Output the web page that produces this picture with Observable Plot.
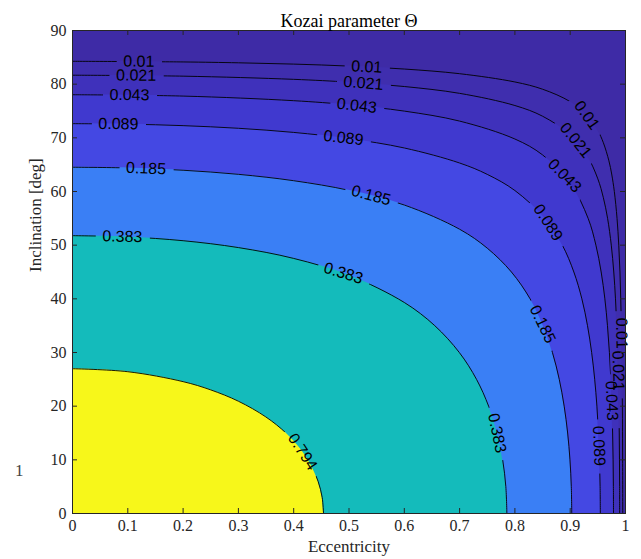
<!DOCTYPE html>
<html><head><meta charset="utf-8">
<script src="https://cdn.jsdelivr.net/npm/d3@7"></script>
<script src="https://cdn.jsdelivr.net/npm/@observablehq/plot@0.6"></script>
<style>
body{margin:0;background:#fff}
#chart{position:relative;width:641px;height:559px}
#stray{position:absolute;left:15px;top:461px;font:17px "Liberation Serif",serif;color:#444}
</style>
</head><body>
<div id="chart"><div id="stray">1</div></div>
<script>
// ---- data ----
const levels = [0.01, 0.021, 0.043, 0.089, 0.185, 0.383, 0.794];
const levelText = ["0.01", "0.021", "0.043", "0.089", "0.185", "0.383", "0.794"];
// band colours: below 0.01, then above each level
const bandColors = ["#3e2ba6", "#3f2eae", "#3f31bb", "#4039cf", "#4448e3", "#3a7ff5", "#14bbbb", "#f7f71a"];
const xTicks = [0, 0.1, 0.2, 0.3, 0.4, 0.5, 0.6, 0.7, 0.8, 0.9, 1];
const yTicks = [0, 10, 20, 30, 40, 50, 60, 70, 80, 90];

// contour lines as [eccentricity, inclination(deg)] points
const contour001 = [[0,84.26],[0.2,84.14],[0.3,83.98],[0.4,83.74],[0.5,83.37],[0.6,82.82],[0.7,81.95],[0.8,80.41],[0.85,79.06],[0.9,76.74],[0.93,74.21],[0.95,71.32],[0.96,69.08],[0.97,65.71],[0.975,63.26],[0.9798,60],[0.9847,55],[0.9878,50],[0.99,45],[0.9914,40],[0.9925,35],[0.9933,30],[0.9939,25],[0.9943,20],[0.9948,10],[0.995,0]];
const contour0021 = [[0,81.67],[0.2,81.49],[0.4,80.9],[0.5,80.37],[0.6,79.56],[0.7,78.29],[0.8,76.02],[0.85,74.03],[0.9,70.58],[0.93,66.78],[0.95,62.35],[0.96,58.83],[0.9676,55],[0.9743,50],[0.9788,45],[0.9819,40],[0.9842,35],[0.9859,30],[0.9871,25],[0.988,20],[0.9887,15],[0.9891,10],[0.9894,5],[0.9894,0]];
const contour0043 = [[0,78.03],[0.2,77.78],[0.4,76.92],[0.5,76.15],[0.6,74.98],[0.7,73.12],[0.8,69.78],[0.85,66.82],[0.9,61.59],[0.9324,55],[0.9465,50],[0.956,45],[0.9627,40],[0.9674,35],[0.9709,30],[0.9735,25],[0.9753,20],[0.9767,15],[0.9776,10],[0.9781,5],[0.9783,0]];
const contour0089 = [[0,72.64],[0.1,72.55],[0.2,72.27],[0.3,71.78],[0.4,71.01],[0.5,69.85],[0.6,68.11],[0.7,65.31],[0.75,63.19],[0.8,60.18],[0.8541,55],[0.8858,50],[0.9066,45],[0.9211,40],[0.9313,35],[0.9388,30],[0.9443,25],[0.9483,20],[0.9511,15],[0.953,10],[0.9541,5],[0.9545,0]];
const contour0185 = [[0,64.52],[0.1,64.39],[0.2,63.96],[0.3,63.2],[0.4,62.01],[0.5,60.22],[0.6,57.48],[0.7,52.97],[0.75,49.44],[0.7937,45],[0.8275,40],[0.8511,35],[0.8679,30],[0.8802,25],[0.8891,20],[0.8954,15],[0.8996,10],[0.902,5],[0.9028,0]];
const contour0383 = [[0,51.77],[0.1,51.54],[0.2,50.83],[0.3,49.55],[0.4,47.53],[0.5,44.39],[0.6,39.32],[0.6551,35],[0.6995,30],[0.7306,25],[0.7525,20],[0.7678,15],[0.7779,10],[0.7836,5],[0.7855,0]];
const contour0794 = [[0,26.98],[0.1,26.42],[0.2,24.57],[0.25,23.03],[0.3,20.92],[0.3495,18],[0.386,15],[0.4125,12],[0.4314,9],[0.4441,6],[0.4515,3],[0.4539,0]];

// contour labels: level index, eccentricity, inclination
const labelLevel = [0,0,0,0, 1,1,1,1, 2,2,2,2, 3,3,3,3, 4,4,4, 5,5,5, 6];
const labelEcc   = [0.12,0.532,0.93,0.9928, 0.115,0.526,0.91,0.9868, 0.103,0.514,0.89,0.975, 0.083,0.49,0.86,0.952, 0.133,0.54,0.85, 0.09,0.49,0.7678, 0.416];
const labelInc   = [84.22,83.22,74.21,33.6, 81.61,80.19,69.54,26.6, 77.97,76.01,62.95,21.0, 72.58,69.99,54.22,12.6, 64.28,59.27,35.26, 51.58,44.77,15, 11.5];

// ---- layout ----
const W = 641, H = 559, mL = 72, mR = 16, mT = 30, mB = 46;
const innerW = W - mL - mR, innerH = H - mT - mB;
const axisColor = "#262626";

const contours = [contour001, contour0021, contour0043, contour0089, contour0185, contour0383, contour0794];
const rows = contours.flatMap((pts, k) => pts.map(([e, i]) => ({level: levels[k], e, i})));

const kx = innerW / 1, ky = innerH / 90;
const labelRows = labelLevel.map((k, j) => {
  const e = labelEcc[j], i = labelInc[j];
  const pts = contours[k];
  let best = 0, bd = Infinity;
  for (let s = 0; s < pts.length - 1; s++) {
    const mx = (pts[s][0] + pts[s + 1][0]) / 2, my = (pts[s][1] + pts[s + 1][1]) / 2;
    const d = Math.hypot((mx - e) * kx, (my - i) * ky);
    if (d < bd) { bd = d; best = s; }
  }
  const [a, b] = [pts[best], pts[best + 1]];
  let ang = Math.atan2(-(b[1] - a[1]) * ky, (b[0] - a[0]) * kx) * 180 / Math.PI;
  if (ang > 90) ang -= 180; if (ang < -90) ang += 180;
  return {e, i, text: levelText[k], angle: ang};
});

const marks = [Plot.frame({fill: bandColors[0], stroke: null})];
contours.forEach((pts, k) => {
  marks.push(Plot.areaY(rows.filter(r => r.level === levels[k]), {x: "e", y1: 0, y2: "i", fill: bandColors[k + 1], curve: "catmull-rom"}));
});
marks.push(
  Plot.line(rows, {x: "e", y: "i", z: "level", stroke: "#000", strokeWidth: 0.9, curve: "catmull-rom"}),
  Plot.text(labelRows, {x: "e", y: "i", text: "text", rotate: "angle", fontFamily: "Liberation Sans, Arial, sans-serif", fontSize: 16, fill: "#000"}),
  Plot.tickX(xTicks, {x: d => d, insetTop: innerH - 5, stroke: axisColor}),
  Plot.tickX(xTicks, {x: d => d, insetBottom: innerH - 5, stroke: axisColor}),
  Plot.tickY(yTicks, {y: d => d, insetRight: innerW - 5, stroke: axisColor}),
  Plot.tickY(yTicks, {y: d => d, insetLeft: innerW - 5, stroke: axisColor}),
  Plot.axisX({ticks: xTicks, tickSize: 0, tickPadding: 6, tickFormat: d => String(+d.toFixed(1)), fontSize: 16, fill: axisColor, label: null}),
  Plot.axisY({ticks: yTicks, tickSize: 0, tickPadding: 6, tickFormat: d => String(d), fontSize: 16, fill: axisColor, label: null}),
  Plot.frame({stroke: axisColor, strokeWidth: 1}),
  Plot.text(["Eccentricity"], {frameAnchor: "bottom", dy: 38, fontSize: 17, fill: axisColor}),
  Plot.text(["Inclination [deg]"], {frameAnchor: "left", dx: -37, rotate: -90, fontSize: 17, fill: axisColor}),
  Plot.text(["Kozai parameter Θ"], {frameAnchor: "top", dy: -16, fontSize: 18, fill: "#000"})
);

const chart = Plot.plot({
  width: W, height: H,
  marginLeft: mL, marginRight: mR, marginTop: mT, marginBottom: mB,
  x: {domain: [0, 1], label: null},
  y: {domain: [0, 90], label: null},
  style: {fontFamily: "Liberation Serif, Times New Roman, serif", background: "transparent", overflow: "visible"},
  marks
});
document.getElementById("chart").appendChild(chart);

// break the contour lines under their labels (as in MATLAB clabel)
const svg = chart.tagName.toLowerCase() === "svg" ? chart : chart.querySelector("svg");
const ns = "http://www.w3.org/2000/svg";
const lineG = svg.querySelector('g[aria-label="line"]');
const labelG = svg.querySelectorAll('g[aria-label="text"]')[0];
if (lineG && labelG) {
  const defs = document.createElementNS(ns, "defs");
  const mask = document.createElementNS(ns, "mask");
  mask.setAttribute("id", "labelgap");
  mask.setAttribute("maskUnits", "userSpaceOnUse");
  mask.setAttribute("x", 0); mask.setAttribute("y", 0);
  mask.setAttribute("width", W); mask.setAttribute("height", H);
  const bg = document.createElementNS(ns, "rect");
  bg.setAttribute("x", 0); bg.setAttribute("y", 0); bg.setAttribute("width", W); bg.setAttribute("height", H);
  bg.setAttribute("fill", "white");
  mask.appendChild(bg);
  const gT = labelG.getAttribute("transform") || "";
  labelG.querySelectorAll("text").forEach(t => {
    const bb = t.getBBox();
    const r = document.createElementNS(ns, "rect");
    const pad = 7;
    r.setAttribute("x", bb.x - pad); r.setAttribute("y", bb.y);
    r.setAttribute("width", bb.width + 2 * pad); r.setAttribute("height", bb.height);
    r.setAttribute("transform", (gT + " " + (t.getAttribute("transform") || "")).trim());
    r.setAttribute("fill", "black");
    mask.appendChild(r);
  });
  defs.appendChild(mask);
  svg.insertBefore(defs, svg.firstChild);
  lineG.setAttribute("mask", "url(#labelgap)");
}
</script>
</body></html>
